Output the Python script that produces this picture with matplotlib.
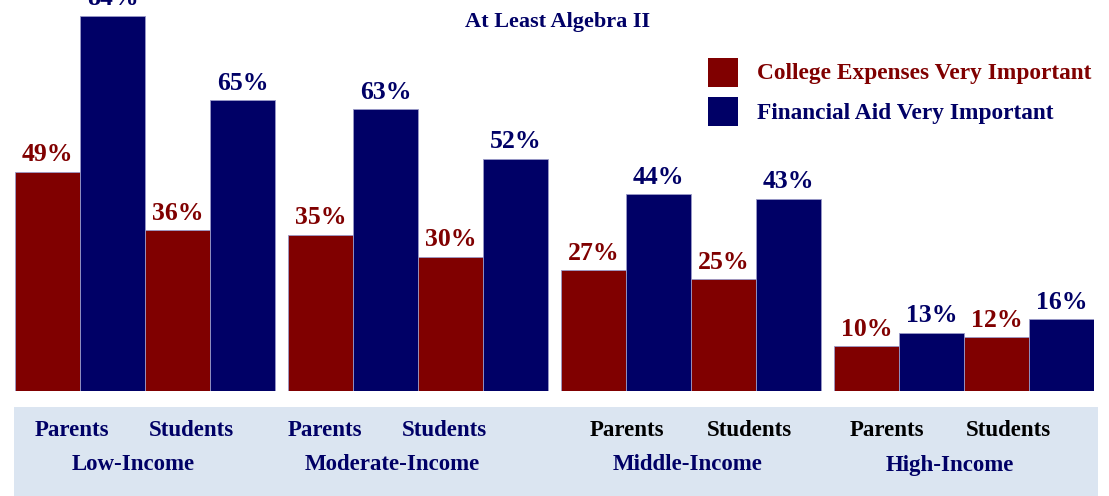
import matplotlib
matplotlib.use("Agg")
import matplotlib.pyplot as plt
from matplotlib.patches import Rectangle
from matplotlib.transforms import blended_transform_factory

# ---- data ----
groups = ["Low-Income", "Moderate-Income", "Middle-Income", "High-Income"]
respondents = ["Parents", "Students"]
expenses = [49, 36, 35, 30, 27, 25, 10, 12]   # Parents, Students per group
aid = [84, 65, 63, 52, 44, 43, 13, 16]
series_names = ["College Expenses Very Important", "Financial Aid Very Important"]
title = "At Least Algebra II"

RED = "#800000"
NAVY = "#000066"
BAND = "#dbe5f1"

plt.rcParams['font.family'] = ['Liberation Serif', 'DejaVu Serif']
plt.rcParams['font.weight'] = 'bold'

W, H = 1109, 496
fig = plt.figure(figsize=(W / 100, H / 100), dpi=100)

# bottom band
fig.patches.append(Rectangle((14 / W, 0), (1098 - 14) / W, (496 - 407) / H,
                             transform=fig.transFigure, facecolor=BAND,
                             edgecolor='none', zorder=-5))

ax = fig.add_axes([15 / W, (H - 391) / H, (1094 - 15) / W, 391 / H])
ax.set_xlim(-0.5, 16.1)
ax.set_ylim(0, 391 / 4.47)
ax.axis('off')
ax.set_zorder(2)

gstep = 4.2
for g in range(len(groups)):
    for r in range(2):
        k = g * 2 + r
        x_exp = g * gstep + r * 2
        x_aid = x_exp + 1
        for x, v, c in ((x_exp, expenses[k], RED), (x_aid, aid[k], NAVY)):
            ax.bar(x, v, width=1.0, color=c, edgecolor='#9a9ac8', linewidth=0.6)
            ax.annotate(f"{v}%", (x, v), xytext=(0, 4), textcoords='offset points',
                        ha='center', va='bottom', color=c, fontsize=18.5,
                        fontweight='bold', annotation_clip=False)

# category labels
resp_offsets = [[0.37, 2.21], [0.07, 1.9], [0.52, 2.4], [0.32, 2.18]]
group_offsets = [1.32, 1.1, 1.45, 1.28]
resp_colors = [NAVY, NAVY, "black", "black"]
tr = blended_transform_factory(ax.transData, fig.transFigure)
for g, name in enumerate(groups):
    base = g * gstep
    for r, rname in enumerate(respondents):
        ax.text(base + resp_offsets[g][r], (H - 430) / H, rname, transform=tr,
                ha='center', va='center', fontsize=16.5, fontweight='bold',
                color=resp_colors[g], clip_on=False)
    ax.text(base + group_offsets[g], (H - 465) / H, name, transform=tr,
            ha='center', va='center', fontsize=16.5, fontweight='bold', color=NAVY,
            clip_on=False)

# title
fig.text(558 / W, (H - 22) / H, title, ha='center', va='center',
         fontsize=16, fontweight='bold', color=NAVY)

# legend
for i, (name, c) in enumerate(zip(series_names, [RED, NAVY])):
    ytop = [58, 97][i]
    fig.patches.append(Rectangle((708 / W, (H - ytop - 29) / H), 30 / W, 29 / H,
                                 transform=fig.transFigure, facecolor=c,
                                 edgecolor='none'))
    fig.text(757 / W, (H - ytop - 16) / H, name, ha='left', va='center',
             fontsize=16.8, fontweight='bold', color=c)

fig.savefig("out.png", dpi=100)
